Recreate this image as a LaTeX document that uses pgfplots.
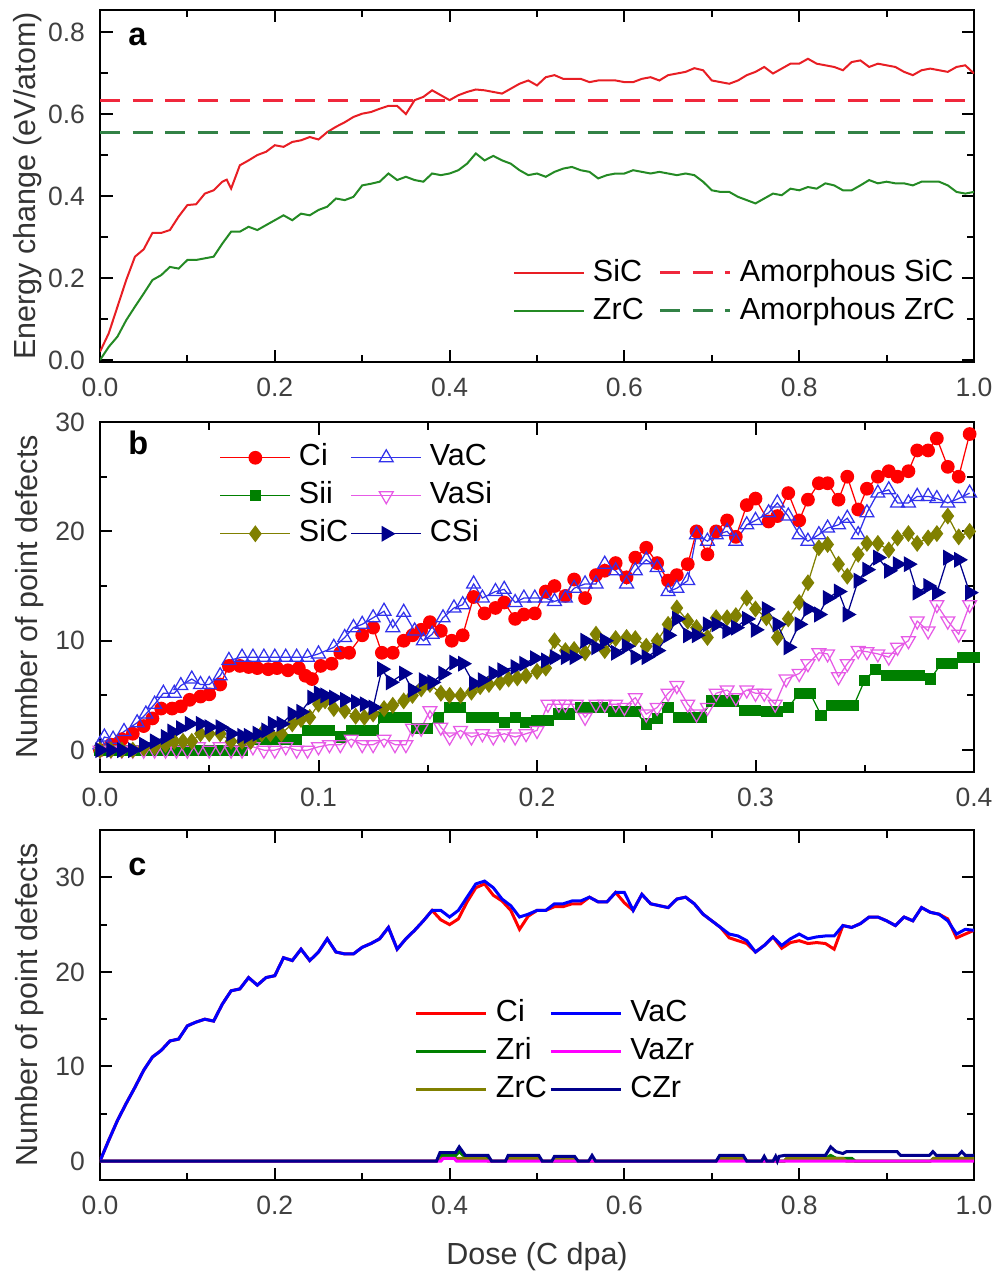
\documentclass[border=0pt]{standalone}
\usepackage{fontspec}
\setmainfont{Liberation Sans}
\usepackage{pgfplots}
\pgfplotsset{compat=1.18}

\definecolor{sicred}{RGB}{232,30,36}
\definecolor{zrcgreen}{RGB}{36,138,36}
\definecolor{amred}{RGB}{240,40,60}
\definecolor{amgreen}{RGB}{50,130,70}
\definecolor{cired}{RGB}{255,0,0}
\definecolor{siigreen}{RGB}{0,128,0}
\definecolor{olive}{RGB}{128,128,0}
\definecolor{vacblue}{RGB}{50,50,235}
\definecolor{vasi}{RGB}{230,90,230}
\definecolor{navy}{RGB}{0,0,140}
\definecolor{pureblue}{RGB}{0,0,255}
\definecolor{magenta}{RGB}{255,0,255}

\tikzset{plabel/.style={anchor=base west, inner sep=0pt, font=\bfseries\fontsize{13}{15}\selectfont}}

\pgfplotsset{
  /pgf/number format/assume math mode=true,
  panel/.style={
    scale only axis, width=349.6pt, anchor=north west,
    xmin=0, xmax=1,
    axis line style={line width=1pt},
    tick align=inside,
    major tick length=5pt, minor tick length=3pt,
    every tick/.style={black, line width=0.8pt},
    minor tick num=1,
    tick label style={font=\fontsize{10.6}{12}\selectfont, text=black!75},
    label style={font=\fontsize{12.2}{14}\selectfont, text=black!80},
    xticklabel style={yshift=-3pt},
    yticklabel style={xshift=-2.5pt},
    legend cell align=left,
    legend style={draw=none, fill=none, inner sep=0pt, outer sep=0pt,
      anchor=north west, font=\fontsize{12.2}{14}\selectfont,
      nodes={inner sep=1pt, text height=9pt, text depth=2.5pt},
      row sep=1.7pt,
      /tikz/every odd column/.append style={column sep=2.2pt}},
  },
  lineleg/.style={legend image code/.code={\draw[##1] (0pt,0pt) -- (28pt,0pt);}},
  markleg/.style={legend image code/.code={\draw[mark repeat=2,mark phase=2,##1] plot coordinates {(0pt,0pt) (14pt,0pt) (28pt,0pt)};}},
}

\begin{document}
\begin{tikzpicture}
\useasboundingbox (0,0) rectangle (398.4pt,-508.4pt);

% ---------------- panel a
\begin{axis}[panel, lineleg, at={(40pt,-4pt)}, height=140.8pt,
  ymin=-0.005, ymax=0.854,
  xtick={0,0.2,0.4,0.6,0.8,1}, ytick={0,0.2,0.4,0.6,0.8},
  xticklabel style={/pgf/number format/.cd,fixed,fixed zerofill,precision=1},
  yticklabel style={/pgf/number format/.cd,fixed,fixed zerofill,precision=1},
  ylabel={Energy change (eV/atom)},
  ylabel style={at={(axis description cs:-0.083,0.5)},anchor=center},
  legend columns=2,
  legend style={at={(rel axis cs:0.4725,0.301)},
    /tikz/every even column/.append style={column sep=5pt}},
]
\addplot[sicred, line width=0.8pt] coordinates {
(0,0.02) (0.01,0.065) (0.02,0.13) (0.03,0.195) (0.04,0.252) (0.05,0.27) (0.06,0.31)
(0.07,0.31) (0.08,0.317) (0.09,0.35) (0.1,0.378) (0.11,0.38) (0.12,0.406) (0.13,0.414)
(0.14,0.435) (0.145,0.44) (0.15,0.418) (0.16,0.475) (0.17,0.487) (0.18,0.5) (0.19,0.508)
(0.2,0.524) (0.21,0.52) (0.22,0.532) (0.23,0.536) (0.24,0.544) (0.25,0.538) (0.26,0.556)
(0.27,0.569) (0.28,0.58) (0.29,0.593) (0.3,0.601) (0.31,0.605) (0.32,0.613) (0.33,0.62)
(0.34,0.62) (0.35,0.6) (0.36,0.634) (0.37,0.642) (0.38,0.658) (0.39,0.646) (0.4,0.634)
(0.41,0.646) (0.42,0.654) (0.43,0.66) (0.44,0.658) (0.45,0.654) (0.46,0.65) (0.47,0.662)
(0.48,0.674) (0.49,0.682) (0.5,0.67) (0.51,0.69) (0.52,0.695) (0.53,0.686) (0.54,0.686)
(0.55,0.686) (0.56,0.678) (0.57,0.682) (0.58,0.682) (0.59,0.682) (0.6,0.678) (0.61,0.678)
(0.62,0.686) (0.63,0.69) (0.64,0.682) (0.65,0.695) (0.66,0.699) (0.67,0.703) (0.68,0.712)
(0.69,0.707) (0.7,0.682) (0.71,0.678) (0.72,0.674) (0.73,0.682) (0.74,0.695) (0.75,0.703)
(0.76,0.715) (0.77,0.699) (0.78,0.711) (0.79,0.723) (0.8,0.723) (0.81,0.735) (0.82,0.723)
(0.83,0.719) (0.84,0.715) (0.85,0.707) (0.86,0.727) (0.87,0.731) (0.88,0.715) (0.89,0.723)
(0.9,0.719) (0.91,0.715) (0.92,0.703) (0.93,0.695) (0.94,0.707) (0.95,0.711) (0.96,0.707)
(0.97,0.703) (0.98,0.715) (0.99,0.719) (1,0.699)
};
\addlegendentry{SiC}
\addplot[amred, line width=1.2pt, dash pattern=on 8pt off 5pt] coordinates {(0,0.634) (1,0.634)};
\addlegendentry{Amorphous SiC}
\addplot[zrcgreen, line width=0.8pt] coordinates {
(0,0) (0.01,0.032) (0.02,0.057) (0.03,0.097) (0.04,0.13) (0.05,0.162) (0.06,0.195)
(0.07,0.207) (0.08,0.227) (0.09,0.223) (0.1,0.244) (0.11,0.244) (0.12,0.248) (0.13,0.252)
(0.14,0.284) (0.15,0.313) (0.16,0.313) (0.17,0.325) (0.18,0.317) (0.19,0.329) (0.2,0.341)
(0.21,0.353) (0.22,0.341) (0.23,0.357) (0.24,0.353) (0.25,0.366) (0.26,0.374) (0.27,0.394)
(0.28,0.39) (0.29,0.398) (0.3,0.426) (0.31,0.43) (0.32,0.435) (0.33,0.455) (0.34,0.439)
(0.35,0.447) (0.36,0.439) (0.37,0.435) (0.38,0.455) (0.39,0.451) (0.4,0.455) (0.41,0.463)
(0.42,0.479) (0.43,0.504) (0.44,0.487) (0.45,0.498) (0.46,0.487) (0.47,0.479) (0.48,0.463)
(0.49,0.451) (0.5,0.455) (0.51,0.447) (0.52,0.459) (0.53,0.467) (0.54,0.471) (0.55,0.463)
(0.56,0.459) (0.57,0.443) (0.58,0.451) (0.59,0.455) (0.6,0.455) (0.61,0.463) (0.62,0.459)
(0.63,0.455) (0.64,0.459) (0.65,0.455) (0.66,0.451) (0.67,0.455) (0.68,0.451) (0.69,0.435)
(0.7,0.414) (0.71,0.41) (0.72,0.41) (0.73,0.398) (0.74,0.39) (0.75,0.382) (0.76,0.394)
(0.77,0.406) (0.78,0.402) (0.79,0.418) (0.8,0.414) (0.81,0.422) (0.82,0.418) (0.83,0.431)
(0.84,0.426) (0.85,0.414) (0.86,0.414) (0.87,0.426) (0.88,0.439) (0.89,0.431) (0.9,0.435)
(0.91,0.431) (0.92,0.431) (0.93,0.426) (0.94,0.435) (0.95,0.435) (0.96,0.435) (0.97,0.426)
(0.98,0.41) (0.99,0.406) (1,0.41)
};
\addlegendentry{ZrC}
\addplot[amgreen, line width=1.2pt, dash pattern=on 8pt off 5pt] coordinates {(0,0.554) (1,0.554)};
\addlegendentry{Amorphous ZrC}
\node[plabel] at (rel axis cs:0.032,0.9) {a};
\end{axis}

% ---------------- panel b
\begin{axis}[panel, markleg, at={(40pt,-168.8pt)}, height=140pt,
  xmax=0.4, ymin=-2, ymax=30,
  xtick={0,0.1,0.2,0.3,0.4}, ytick={0,10,20,30},
  xticklabel style={/pgf/number format/.cd,fixed,fixed zerofill,precision=1},
  ylabel={Number of point defects},
  ylabel style={at={(axis description cs:-0.080,0.5)},anchor=center},
  legend columns=2,
  legend style={at={(rel axis cs:0.137,0.946)},
    /tikz/every even column/.append style={column sep=0pt}},
  every axis plot/.append style={line width=0.5pt},
]
\addplot[cired, mark=*, mark size=2.5pt] coordinates {
(0,0) (0.005,0.5) (0.01,1) (0.015,1.5) (0.02,2.2) (0.024,2.9) (0.028,3.8) (0.033,3.8)
(0.037,4) (0.041,4.6) (0.046,4.9) (0.05,5.1) (0.055,6) (0.059,7.7) (0.064,7.7) (0.068,7.6)
(0.072,7.5) (0.077,7.4) (0.081,7.5) (0.086,7.3) (0.091,7.5) (0.094,6.8) (0.097,6.5)
(0.101,7.7) (0.106,7.9) (0.11,8.9) (0.114,8.9) (0.12,10.5) (0.125,11.2) (0.129,8.9)
(0.134,8.9) (0.139,10) (0.143,10.5) (0.147,11) (0.151,11.7) (0.156,10.9) (0.161,10)
(0.166,10.5) (0.171,14) (0.176,12.5) (0.181,13) (0.185,13.5) (0.19,12) (0.194,12.4)
(0.199,12.5) (0.204,14.5) (0.208,15) (0.213,14.1) (0.217,15.6) (0.222,13.9) (0.227,16)
(0.231,16.4) (0.236,17.1) (0.241,15.8) (0.245,17.6) (0.25,18.5) (0.255,17.1) (0.26,15.5)
(0.264,16) (0.269,17) (0.273,20) (0.278,17.9) (0.282,20) (0.287,21) (0.291,19.5)
(0.296,22.4) (0.3,23) (0.306,20.9) (0.31,21.4) (0.315,23.5) (0.32,21) (0.324,22.9)
(0.329,24.4) (0.333,24.4) (0.338,22.9) (0.342,25) (0.347,22) (0.351,23.9) (0.356,25)
(0.361,25.5) (0.365,25) (0.37,25.5) (0.374,27.4) (0.379,27.4) (0.383,28.5) (0.388,25.9)
(0.393,25) (0.398,28.9)
};
\addlegendentry{Ci}
\addplot[vacblue, mark=triangle, mark size=3.2pt] coordinates {
(0,0.5) (0.002,1.2) (0.006,1) (0.011,1.7) (0.017,2.5) (0.021,3.3) (0.025,4.2) (0.029,5.2)
(0.034,5.2) (0.037,5.9) (0.042,6.5) (0.046,6) (0.05,6) (0.055,6.8) (0.059,8.2) (0.065,8.5)
(0.07,8.5) (0.075,8.5) (0.08,8.5) (0.085,8.5) (0.09,8.5) (0.095,8.5) (0.1,8.8) (0.107,9.4)
(0.112,10.3) (0.116,11.2) (0.12,11.5) (0.125,12.1) (0.13,12.7) (0.134,11.2) (0.139,12.6)
(0.144,10.9) (0.148,10) (0.152,10.6) (0.157,12.1) (0.162,13) (0.166,13.3) (0.171,15.2)
(0.175,13.9) (0.181,14.5) (0.185,14.7) (0.19,13.5) (0.194,13.9) (0.199,13.9) (0.204,13.9)
(0.208,13.6) (0.213,13.9) (0.217,14.8) (0.222,15.2) (0.227,15.2) (0.231,17) (0.236,16.4)
(0.241,15.2) (0.245,16.4) (0.25,17.4) (0.255,16.7) (0.26,14.5) (0.264,14.8) (0.269,15.5)
(0.273,19.7) (0.278,19.1) (0.282,19.7) (0.287,20) (0.291,19.1) (0.296,20.6) (0.3,21)
(0.306,21.7) (0.31,22.6) (0.315,21.4) (0.32,19.7) (0.324,19.1) (0.329,19.7) (0.333,20.3)
(0.338,20.6) (0.342,21.2) (0.347,19.7) (0.351,21.7) (0.356,23.5) (0.361,23.8) (0.365,22.6)
(0.37,22.6) (0.374,23.2) (0.379,23.2) (0.383,23) (0.388,22.6) (0.393,23) (0.398,23.5)
};
\addlegendentry{VaC}
\addplot[siigreen, mark=square*, mark size=2pt] coordinates {
(0,0) (0.005,0) (0.01,0) (0.015,0) (0.02,0) (0.025,0) (0.03,0) (0.035,0) (0.04,0)
(0.045,0) (0.05,0) (0.055,0) (0.06,0) (0.065,0) (0.07,1) (0.075,1) (0.08,1) (0.085,1)
(0.09,1) (0.095,1.8) (0.1,1.8) (0.105,1.8) (0.11,1.2) (0.115,1.8) (0.12,1.8) (0.125,1.8)
(0.13,3) (0.135,3) (0.14,3) (0.145,2) (0.15,2) (0.155,3) (0.16,3.9) (0.165,3.9) (0.17,3)
(0.175,3) (0.18,3) (0.185,2.5) (0.19,3) (0.195,2.5) (0.2,2.7) (0.205,2.7) (0.21,3.3)
(0.215,3.3) (0.22,3.9) (0.225,3.9) (0.23,3.9) (0.235,3.5) (0.24,3.5) (0.245,3.5) (0.25,2.4)
(0.255,2.9) (0.26,3.9) (0.265,3) (0.27,3) (0.275,3) (0.28,4.5) (0.285,4.5) (0.29,4.5)
(0.295,3.6) (0.3,3.6) (0.305,3.5) (0.31,3.5) (0.315,3.9) (0.32,5.2) (0.325,5.2) (0.33,3.2)
(0.335,4.1) (0.34,4.1) (0.345,4.1) (0.35,6.4) (0.355,7.4) (0.36,6.8) (0.365,6.8) (0.37,6.8)
(0.375,6.8) (0.38,6.5) (0.385,7.9) (0.39,7.9) (0.395,8.5) (0.4,8.5)
};
\addlegendentry{Sii}
\addplot[vasi, mark=triangle, mark size=3.2pt, mark options={rotate=180}] coordinates {
(0,0) (0.005,0) (0.01,0) (0.015,0) (0.02,0) (0.025,0) (0.03,0) (0.035,0) (0.04,0)
(0.045,0.3) (0.05,0) (0.055,0.3) (0.06,0) (0.065,0) (0.07,0.3) (0.075,0) (0.08,0)
(0.085,0.3) (0.09,0) (0.095,0) (0.1,0.3) (0.105,0.5) (0.11,0.5) (0.115,1) (0.12,0.5)
(0.125,0.5) (0.13,1) (0.135,0.5) (0.14,0.5) (0.143,2) (0.147,2) (0.151,3.6) (0.156,2.1)
(0.16,1.2) (0.165,1.8) (0.17,1.2) (0.175,1.5) (0.18,1.2) (0.185,1.5) (0.19,1.2) (0.195,1.5)
(0.2,1.8) (0.205,4.2) (0.21,4.2) (0.213,4.2) (0.218,4.2) (0.222,3) (0.227,4.2) (0.231,4.2)
(0.236,4.2) (0.24,3.9) (0.245,4.8) (0.25,3.3) (0.255,3.9) (0.26,5.2) (0.264,5.9) (0.269,4.2)
(0.273,3.3) (0.278,3.9) (0.282,5.2) (0.287,5.5) (0.291,4.8) (0.296,5.5) (0.3,5.2)
(0.304,5.2) (0.309,4.2) (0.314,6.5) (0.32,7) (0.324,7.9) (0.329,8.9) (0.333,8.8) (0.338,6.7)
(0.342,7.9) (0.347,9.1) (0.351,9) (0.356,8.8) (0.361,8.5) (0.365,9.4) (0.37,10) (0.374,11.8)
(0.379,10.9) (0.383,13.3) (0.388,11.8) (0.393,10.6) (0.398,13.3)
};
\addlegendentry{VaSi}
\addplot[olive, mark=diamond*, mark size=3pt] coordinates {
(0,0) (0.005,0) (0.01,0) (0.015,0) (0.02,0.2) (0.025,0.3) (0.03,0.5) (0.034,0.8) (0.038,0.8)
(0.042,0.8) (0.046,1.5) (0.05,1.5) (0.055,1.5) (0.06,0.8) (0.065,0.8) (0.069,0.8) (0.074,1.5)
(0.078,1.5) (0.083,1.5) (0.088,2.4) (0.092,2.8) (0.096,3) (0.1,4.2) (0.103,4.5) (0.107,3.8)
(0.112,3.6) (0.117,3.1) (0.121,3) (0.125,3.3) (0.13,3.8) (0.134,4.1) (0.139,4.5) (0.143,5)
(0.147,5.6) (0.151,6) (0.156,5.2) (0.16,5) (0.165,5) (0.17,5.3) (0.174,5.8) (0.178,6)
(0.183,6.2) (0.187,6.5) (0.191,6.6) (0.195,6.8) (0.2,7.2) (0.204,7.5) (0.208,10) (0.213,9.1)
(0.217,9.2) (0.222,8.9) (0.227,10.6) (0.231,9.1) (0.236,10.2) (0.241,10.3) (0.245,10.2)
(0.25,9.5) (0.255,10) (0.26,11.5) (0.264,13) (0.269,11.8) (0.273,11.2) (0.278,10.3)
(0.282,12.1) (0.287,12.1) (0.291,12.3) (0.296,13.9) (0.3,12.9) (0.305,12.1) (0.31,10.3)
(0.315,12) (0.32,13.5) (0.324,15.3) (0.329,18.5) (0.333,18.8) (0.338,17) (0.342,15.9)
(0.347,17.9) (0.351,18.9) (0.356,18.9) (0.361,18.3) (0.365,19.4) (0.37,19.8) (0.374,18.9)
(0.379,19.4) (0.383,19.8) (0.388,21.4) (0.393,19.5) (0.398,20)
};
\addlegendentry{SiC}
\addplot[navy, mark=triangle*, mark size=3.2pt, mark options={rotate=-90}] coordinates {
(0,0) (0.005,0) (0.01,0) (0.015,0) (0.02,0.5) (0.025,0.8) (0.03,1.2) (0.033,1.7) (0.037,2)
(0.041,2.4) (0.046,2.4) (0.05,2.1) (0.055,2.1) (0.06,1.5) (0.065,1.3) (0.068,1.3) (0.072,1.5)
(0.076,1.8) (0.079,2.4) (0.083,2.4) (0.088,3.3) (0.092,3.5) (0.097,4.8) (0.1,5.2) (0.103,5)
(0.107,4.8) (0.112,4.6) (0.117,4.4) (0.121,4.2) (0.125,3.9) (0.129,7.4) (0.133,6.2) (0.139,7)
(0.143,5.5) (0.148,6.4) (0.152,6.2) (0.157,7) (0.162,8) (0.166,7.9) (0.171,6.1) (0.175,6.4)
(0.18,7) (0.184,7.3) (0.19,7.6) (0.194,7.9) (0.199,8.4) (0.204,8.2) (0.208,8.5) (0.213,8.5)
(0.217,8.5) (0.222,10) (0.227,9.4) (0.231,10) (0.236,8.9) (0.241,9.5) (0.245,8.5) (0.25,8.5)
(0.255,9.1) (0.26,10.5) (0.264,12) (0.269,10.5) (0.273,10.5) (0.278,11.5) (0.282,11.5)
(0.287,10.9) (0.291,11.2) (0.296,12) (0.3,11) (0.305,12.9) (0.31,11.5) (0.315,9.4) (0.32,11.5)
(0.324,12.9) (0.329,12.4) (0.333,13.9) (0.338,14.5) (0.342,12.4) (0.347,15.5) (0.351,16.5)
(0.356,17.6) (0.361,16.4) (0.365,17) (0.37,17) (0.374,14.4) (0.379,15) (0.383,14.4)
(0.388,17.6) (0.393,17.4) (0.398,14.4)
};
\addlegendentry{CSi}
\node[plabel] at (rel axis cs:0.032,0.906) {b};
\end{axis}

% ---------------- panel c
\begin{axis}[panel, lineleg, at={(40pt,-332pt)}, height=140pt,
  ymin=-2, ymax=35,
  xtick={0,0.2,0.4,0.6,0.8,1}, ytick={0,10,20,30},
  xticklabel style={/pgf/number format/.cd,fixed,fixed zerofill,precision=1},
  ylabel={Number of point defects},
  ylabel style={at={(axis description cs:-0.080,0.5)},anchor=center},
  xlabel={Dose (C dpa)},
  xlabel style={at={(axis description cs:0.5,-0.22)},anchor=center},
  legend columns=2,
  legend style={at={(rel axis cs:0.3604,0.523)},
    /tikz/every even column/.append style={column sep=0pt}},
  every axis plot/.append style={line width=1.2pt},
]
\addplot[cired, forget plot] coordinates {
(0,0) (0.01,2.2) (0.02,4.3) (0.03,6.1) (0.04,7.8) (0.05,9.6) (0.06,11) (0.07,11.7) (0.08,12.7)
(0.09,12.9) (0.1,14.3) (0.11,14.7) (0.12,15) (0.13,14.8) (0.14,16.6) (0.15,18) (0.16,18.2)
(0.17,19.4) (0.18,18.6) (0.19,19.4) (0.2,19.6) (0.21,21.5) (0.22,21.2) (0.23,22.4) (0.24,21.2)
(0.25,22.1) (0.26,23.5) (0.27,22.1) (0.28,21.9) (0.29,21.9) (0.3,22.6) (0.31,23) (0.32,23.5)
(0.33,24.7) (0.34,22.4) (0.35,23.5) (0.36,24.4) (0.37,25.4) (0.38,26.5) (0.39,25.5) (0.4,25)
(0.41,25.6) (0.42,27.4) (0.43,28.9) (0.44,29.3) (0.45,28.1) (0.46,27.5) (0.47,26.5) (0.48,24.5)
(0.49,25.9) (0.5,26.5) (0.51,26.5) (0.52,26.9) (0.53,26.9) (0.54,27.2) (0.55,27.2) (0.56,27.9)
(0.57,27.4) (0.58,27.4) (0.59,28.4) (0.6,27.3) (0.61,26.5) (0.62,28.2) (0.63,27.2) (0.64,27)
(0.65,26.8) (0.66,27.7) (0.67,27.9) (0.68,27.2) (0.69,26.1) (0.7,25.4) (0.71,24.7) (0.72,23.6)
(0.73,23.3) (0.74,23) (0.75,22.1) (0.76,22.8) (0.77,23.7) (0.78,22.5) (0.79,23.1) (0.8,23.3)
(0.81,23) (0.82,23.1) (0.83,23) (0.84,22.4) (0.85,24.9) (0.86,24.7) (0.87,25.1) (0.88,25.8)
(0.89,25.8) (0.9,25.4) (0.91,24.9) (0.92,25.8) (0.93,25.4) (0.94,26.8) (0.95,26.3) (0.96,26.1)
(0.97,25.6) (0.98,23.6) (0.99,24) (1,24.4)
};
\addplot[siigreen, forget plot] coordinates {
(0,0) (0.385,0) (0.389,0.6) (0.407,0.6) (0.411,1) (0.418,0.4) (0.444,0.4) (0.448,0)
(0.464,0) (0.467,0.3) (0.502,0.3) (0.506,0) (0.705,0) (0.709,0.3) (0.736,0.3) (0.74,0)
(0.783,0) (0.786,0.3) (0.83,0.3) (0.836,0.6) (0.842,0.3) (0.86,0.3) (0.864,0) (0.95,0)
(0.954,0.3) (1,0.3)
};
\addplot[olive, forget plot] coordinates {
(0,0) (0.385,0) (0.389,0.3) (0.44,0.3) (0.444,0) (0.464,0) (0.467,0.3) (0.502,0.3) (0.506,0)
(0.52,0) (0.523,0.3) (0.543,0.3) (0.547,0) (0.705,0) (0.709,0.3) (0.736,0.3) (0.74,0)
(0.783,0) (0.786,0.3) (0.85,0.3) (0.854,0) (0.95,0) (0.954,0.3) (1,0.3)
};
\addplot[pureblue, forget plot] coordinates {
(0,0) (0.01,2.2) (0.02,4.3) (0.03,6.1) (0.04,7.8) (0.05,9.6) (0.06,11) (0.07,11.7) (0.08,12.7)
(0.09,12.9) (0.1,14.3) (0.11,14.7) (0.12,15) (0.13,14.8) (0.14,16.6) (0.15,18) (0.16,18.2)
(0.17,19.4) (0.18,18.6) (0.19,19.4) (0.2,19.6) (0.21,21.5) (0.22,21.2) (0.23,22.4) (0.24,21.2)
(0.25,22.1) (0.26,23.5) (0.27,22.1) (0.28,21.9) (0.29,21.9) (0.3,22.6) (0.31,23) (0.32,23.5)
(0.33,24.7) (0.34,22.4) (0.35,23.5) (0.36,24.4) (0.37,25.4) (0.38,26.5) (0.39,26.5) (0.4,25.8)
(0.41,26.5) (0.42,27.9) (0.43,29.3) (0.44,29.6) (0.45,28.9) (0.46,27.7) (0.47,27) (0.48,25.8)
(0.49,26.1) (0.5,26.5) (0.51,26.5) (0.52,27.2) (0.53,27.2) (0.54,27.5) (0.55,27.5) (0.56,27.9)
(0.57,27.4) (0.58,27.4) (0.59,28.4) (0.6,28.4) (0.61,26.5) (0.62,28.2) (0.63,27.2) (0.64,27)
(0.65,26.8) (0.66,27.7) (0.67,27.9) (0.68,27.2) (0.69,26.1) (0.7,25.4) (0.71,24.7) (0.72,24)
(0.73,23.8) (0.74,23.3) (0.75,22.1) (0.76,22.8) (0.77,23.7) (0.78,22.8) (0.79,23.5) (0.8,24)
(0.81,23.5) (0.82,23.7) (0.83,23.8) (0.84,23.8) (0.85,24.9) (0.86,24.7) (0.87,25.1) (0.88,25.8)
(0.89,25.8) (0.9,25.4) (0.91,24.9) (0.92,25.8) (0.93,25.4) (0.94,26.8) (0.95,26.3) (0.96,26.1)
(0.97,25.4) (0.98,24) (0.99,24.5) (1,24.4)
};
\addplot[magenta, forget plot] coordinates {
(0,0) (0.39,0) (0.393,0.3) (0.405,0.3) (0.408,0) (1,0)
};
\addplot[navy, forget plot] coordinates {
(0,0) (0.385,0) (0.389,0.9) (0.407,0.9) (0.411,1.5) (0.418,0.6) (0.444,0.6) (0.448,0)
(0.464,0) (0.467,0.6) (0.502,0.6) (0.506,0) (0.517,0) (0.52,0.5) (0.543,0.5) (0.547,0)
(0.559,0) (0.563,0.6) (0.567,0) (0.705,0) (0.709,0.6) (0.736,0.6) (0.74,0) (0.757,0)
(0.76,0.5) (0.763,0) (0.77,0) (0.773,0.5) (0.775,0) (0.777,0.5) (0.783,0.6) (0.83,0.6)
(0.836,1.5) (0.842,1) (0.85,0.8) (0.854,1) (0.912,1) (0.916,0.6) (0.949,0.6) (0.953,1)
(0.957,0.6) (0.982,0.6) (0.986,1) (0.99,0.6) (1,0.6)
};
\addlegendimage{cired}\addlegendentry{Ci}
\addlegendimage{pureblue}\addlegendentry{VaC}
\addlegendimage{siigreen}\addlegendentry{Zri}
\addlegendimage{magenta}\addlegendentry{VaZr}
\addlegendimage{olive}\addlegendentry{ZrC}
\addlegendimage{navy}\addlegendentry{CZr}
\node[plabel] at (rel axis cs:0.032,0.871) {c};
\end{axis}
\end{tikzpicture}
\end{document}
